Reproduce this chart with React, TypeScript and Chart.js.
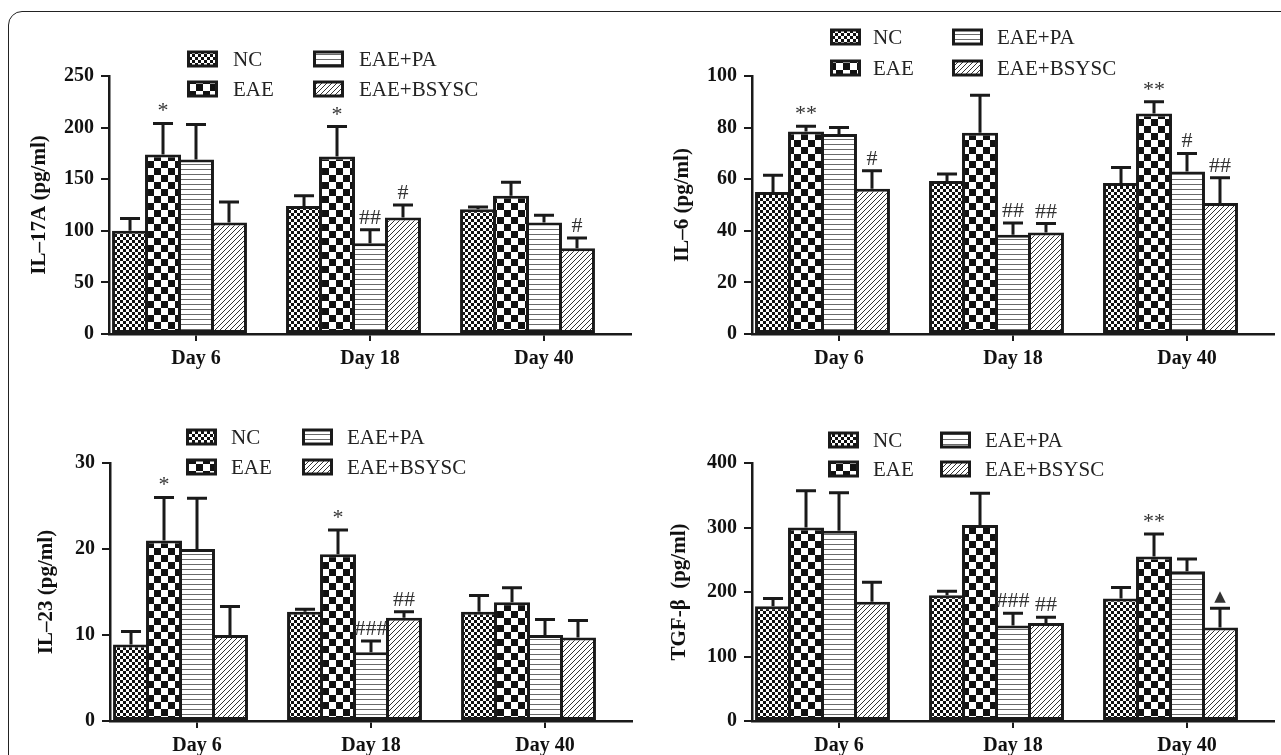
import React, { useEffect, useRef } from 'react';
import { Chart, registerables } from 'chart.js';

Chart.register(...registerables);

// ---------- data ----------
const days = ['Day 6', 'Day 18', 'Day 40'];
const groups = ['NC', 'EAE', 'EAE+PA', 'EAE+BSYSC'];

// IL-17A (pg/ml)
const il17aNC = [100, 124, 121];
const il17aEAE = [174, 172, 134];
const il17aPA = [169, 88, 108];
const il17aBSYSC = [108, 113, 83];
const il17aNCErr = [12, 10, 2];
const il17aEAEErr = [30, 29, 13];
const il17aPAErr = [34, 13, 7];
const il17aBSYSCErr = [20, 12, 10];
const il17aNotes = [['', '', ''], ['*', '*', ''], ['', '##', ''], ['', '#', '#']];
const il17aTicks = { max: 250, step: 50 };

// IL-6 (pg/ml)
const il6NC = [55, 59.3, 58.5];
const il6EAE = [78.5, 78, 85.5];
const il6PA = [77.5, 38.5, 63];
const il6BSYSC = [56.3, 39.3, 50.8];
const il6NCErr = [6.5, 2.7, 6];
const il6EAEErr = [2, 14.5, 4.5];
const il6PAErr = [2.5, 4.5, 7];
const il6BSYSCErr = [7, 3.5, 9.8];
const il6Notes = [['', '', ''], ['**', '', '**'], ['', '##', '#'], ['#', '##', '##']];
const il6Ticks = { max: 100, step: 20 };

// IL-23 (pg/ml)
const il23NC = [8.9, 12.7, 12.7];
const il23EAE = [21, 19.4, 13.8];
const il23PA = [20, 8, 10];
const il23BSYSC = [10, 12, 9.7];
const il23NCErr = [1.5, 0.3, 1.9];
const il23EAEErr = [5, 2.8, 1.7];
const il23PAErr = [5.9, 1.3, 1.8];
const il23BSYSCErr = [3.3, 0.7, 2];
const il23Notes = [['', '', ''], ['*', '*', ''], ['', '###', ''], ['', '##', '']];
const il23Ticks = { max: 30, step: 10 };

// TGF-β (pg/ml)
const tgfNC = [178, 195, 190];
const tgfEAE = [300, 304, 255];
const tgfPA = [295, 148, 232];
const tgfBSYSC = [185, 152, 145];
const tgfNCErr = [12, 6, 17];
const tgfEAEErr = [57, 49, 35];
const tgfPAErr = [59, 19, 19];
const tgfBSYSCErr = [30, 9, 30];
const tgfNotes = [['', '', ''], ['', '', '**'], ['', '###', ''], ['', '##', '▲']];
const tgfTicks = { max: 400, step: 100 };

// ---------- styling ----------
const SERIF = "'Liberation Serif', 'Times New Roman', 'DejaVu Serif', serif";
const INK = '#1a1a1a';

function makePattern(kind: string): CanvasPattern {
  const c = document.createElement('canvas');
  const g = c.getContext('2d')!;
  if (kind === 'fine') {
    c.width = 6; c.height = 6;
    g.fillStyle = '#fff'; g.fillRect(0, 0, 6, 6);
    g.fillStyle = '#111'; g.fillRect(0, 0, 3, 3); g.fillRect(3, 3, 3, 3);
  } else if (kind === 'coarse') {
    c.width = 14; c.height = 14;
    g.fillStyle = '#fff'; g.fillRect(0, 0, 14, 14);
    g.fillStyle = '#111'; g.fillRect(0, 0, 7, 7); g.fillRect(7, 7, 7, 7);
  } else if (kind === 'hstripe') {
    c.width = 4; c.height = 5;
    g.fillStyle = '#fff'; g.fillRect(0, 0, 4, 5);
    g.fillStyle = '#6a6a6a'; g.fillRect(0, 4, 4, 1);
  } else {
    c.width = 5; c.height = 5;
    g.fillStyle = '#fff'; g.fillRect(0, 0, 5, 5);
    g.strokeStyle = '#333'; g.lineWidth = 1;
    g.beginPath();
    g.moveTo(0, 5); g.lineTo(5, 0);
    g.moveTo(-1, 1); g.lineTo(1, -1);
    g.moveTo(4, 6); g.lineTo(6, 4);
    g.stroke();
  }
  return g.createPattern(c, 'repeat')!;
}

const patternKinds = ['fine', 'coarse', 'hstripe', 'diag'];

type PanelSpec = {
  title: string;
  max: number;
  step: number;
  values: number[][];
  errors: number[][];
  notes: string[][];
  left: number; top: number; width: number; height: number;
  area: { left: number; top: number; right: number; bottom: number };
  titlePad: number;
  legend: { boxX: number[]; textX: number[]; rowY: number[] };
};

const panels: PanelSpec[] = [
  {
    title: 'IL–17A (pg/ml)', max: il17aTicks.max, step: il17aTicks.step,
    values: [il17aNC, il17aEAE, il17aPA, il17aBSYSC],
    errors: [il17aNCErr, il17aEAEErr, il17aPAErr, il17aBSYSCErr],
    notes: il17aNotes,
    left: 0, top: 0, width: 640, height: 380,
    area: { left: 109, top: 76, right: 631, bottom: 334 },
    titlePad: 27,
    legend: { boxX: [187, 313], textX: [233, 359], rowY: [59, 89] },
  },
  {
    title: 'IL–6 (pg/ml)', max: il6Ticks.max, step: il6Ticks.step,
    values: [il6NC, il6EAE, il6PA, il6BSYSC],
    errors: [il6NCErr, il6EAEErr, il6PAErr, il6BSYSCErr],
    notes: il6Notes,
    left: 640, top: 0, width: 641, height: 380,
    area: { left: 112, top: 76, right: 634, bottom: 334 },
    titlePad: 30,
    legend: { boxX: [190, 312], textX: [233, 357], rowY: [37, 68] },
  },
  {
    title: 'IL–23 (pg/ml)', max: il23Ticks.max, step: il23Ticks.step,
    values: [il23NC, il23EAE, il23PA, il23BSYSC],
    errors: [il23NCErr, il23EAEErr, il23PAErr, il23BSYSCErr],
    notes: il23Notes,
    left: 0, top: 380, width: 640, height: 400,
    area: { left: 110, top: 83, right: 632, bottom: 341 },
    titlePad: 34,
    legend: { boxX: [186, 302], textX: [231, 347], rowY: [57, 87] },
  },
  {
    title: 'TGF-β  (pg/ml)', max: tgfTicks.max, step: tgfTicks.step,
    values: [tgfNC, tgfEAE, tgfPA, tgfBSYSC],
    errors: [tgfNCErr, tgfEAEErr, tgfPAErr, tgfBSYSCErr],
    notes: tgfNotes,
    left: 640, top: 380, width: 641, height: 400,
    area: { left: 112, top: 83, right: 634, bottom: 341 },
    titlePad: 27,
    legend: { boxX: [188, 300], textX: [233, 345], rowY: [60, 89] },
  },
];

const X_AXIS_H = 40;

function Panel({ spec }: { spec: PanelSpec }) {
  const ref = useRef<HTMLCanvasElement>(null);
  useEffect(() => {
    const patterns = patternKinds.map(makePattern);
    const barOpts = { categoryPercentage: 0.948, barPercentage: 1.09 };

    const datasets: any[] = groups.map((g, i) => ({
      label: g,
      data: spec.values[i],
      backgroundColor: patterns[i],
      borderColor: INK,
      borderWidth: 3,
      borderSkipped: false,
      ...barOpts,
    }));
    // spacer slot so that the tick sits under the EAE+PA bar as in the original
    datasets.push({ label: '', data: days.map(() => null), backgroundColor: 'rgba(0,0,0,0)', borderWidth: 0, ...barOpts });

    const overlay = {
      id: 'overlay',
      afterDatasetsDraw(chart: any) {
        const ctx: CanvasRenderingContext2D = chart.ctx;
        const ys = chart.scales.y;
        for (let di = 0; di < groups.length; di++) {
          const meta = chart.getDatasetMeta(di);
          meta.data.forEach((bar: any, i: number) => {
            const v = spec.values[di][i];
            const e = spec.errors[di][i];
            const topY = ys.getPixelForValue(v + e);
            const x = bar.x;
            ctx.save();
            ctx.strokeStyle = INK;
            ctx.lineWidth = 3;
            ctx.beginPath();
            ctx.moveTo(x, bar.y);
            ctx.lineTo(x, topY);
            ctx.moveTo(x - 10, topY);
            ctx.lineTo(x + 10, topY);
            ctx.stroke();
            const note = spec.notes[di][i];
            if (note) {
              ctx.fillStyle = '#333';
              ctx.textAlign = 'center';
              ctx.textBaseline = 'alphabetic';
              if (note === '▲') {
                ctx.font = "15px 'DejaVu Sans', sans-serif";
                ctx.fillText(note, x, topY - 7);
              } else {
                ctx.font = `22px ${SERIF}`;
                ctx.fillText(note, x, topY - 6);
              }
            }
            ctx.restore();
          });
        }
      },
      afterDraw(chart: any) {
        const ctx: CanvasRenderingContext2D = chart.ctx;
        const lg = spec.legend;
        ctx.save();
        groups.forEach((g, i) => {
          const col = Math.floor(i / 2);
          const row = i % 2;
          const bx = lg.boxX[col];
          const cy = lg.rowY[row];
          const bw = 31, bh = 17;
          ctx.fillStyle = INK;
          ctx.fillRect(bx, cy - bh / 2, bw, bh);
          ctx.fillStyle = patterns[i];
          ctx.fillRect(bx + 3, cy - bh / 2 + 3, bw - 6, bh - 6);
          ctx.fillStyle = '#222';
          ctx.font = `21px ${SERIF}`;
          ctx.textAlign = 'left';
          ctx.textBaseline = 'middle';
          ctx.fillText(g, lg.textX[col], cy + 1);
        });
        ctx.restore();
      },
    };

    const chart = new Chart(ref.current!, {
      type: 'bar',
      data: { labels: days, datasets },
      options: {
        responsive: false,
        animation: false,
        events: [],
        layout: {
          padding: {
            left: 0,
            top: spec.area.top,
            right: spec.width - spec.area.right,
            bottom: spec.height - spec.area.bottom - X_AXIS_H,
          },
        },
        plugins: { legend: { display: false }, tooltip: { enabled: false } },
        scales: {
          x: {
            type: 'category',
            offset: true,
            grid: { display: true, drawOnChartArea: false, drawTicks: true, tickLength: 7, offset: false, color: INK, lineWidth: 2 },
            border: { display: true, color: INK, width: 2.5 },
            ticks: { color: '#111', font: { family: SERIF, size: 20, weight: 'bold' }, padding: 6, maxRotation: 0, autoSkip: false },
            afterFit: (s: any) => { s.height = X_AXIS_H; },
          },
          y: {
            min: 0,
            max: spec.max,
            ticks: { stepSize: spec.step, color: '#111', font: { family: SERIF, size: 20, weight: 'bold' }, padding: 7 },
            grid: { display: true, drawOnChartArea: false, drawTicks: true, tickLength: 8, color: INK, lineWidth: 2 },
            border: { display: true, color: INK, width: 2.5 },
            title: {
              display: true,
              text: spec.title,
              color: '#111',
              font: { family: SERIF, size: 21, weight: 'bold' },
              padding: { top: spec.titlePad, bottom: 0 },
            },
            afterFit: (s: any) => { s.width = spec.area.left; },
          },
        },
      } as any,
      plugins: [overlay],
    });
    return () => chart.destroy();
  }, []);
  return (
    <div style={{ position: 'absolute', left: spec.left, top: spec.top, width: spec.width, height: spec.height }}>
      <canvas ref={ref} width={spec.width} height={spec.height} style={{ width: spec.width, height: spec.height, display: 'block' }} />
    </div>
  );
}

export default function App() {
  return (
    <div style={{ position: 'absolute', left: 0, top: 0, width: 1281, height: 755, overflow: 'hidden', background: '#fff' }}>
      <div style={{ position: 'absolute', left: 8, top: 11, width: 1400, height: 900, border: '1.5px solid #222', borderRadius: 14 }} />
      {panels.map((p, i) => <Panel key={i} spec={p} />)}
    </div>
  );
}
